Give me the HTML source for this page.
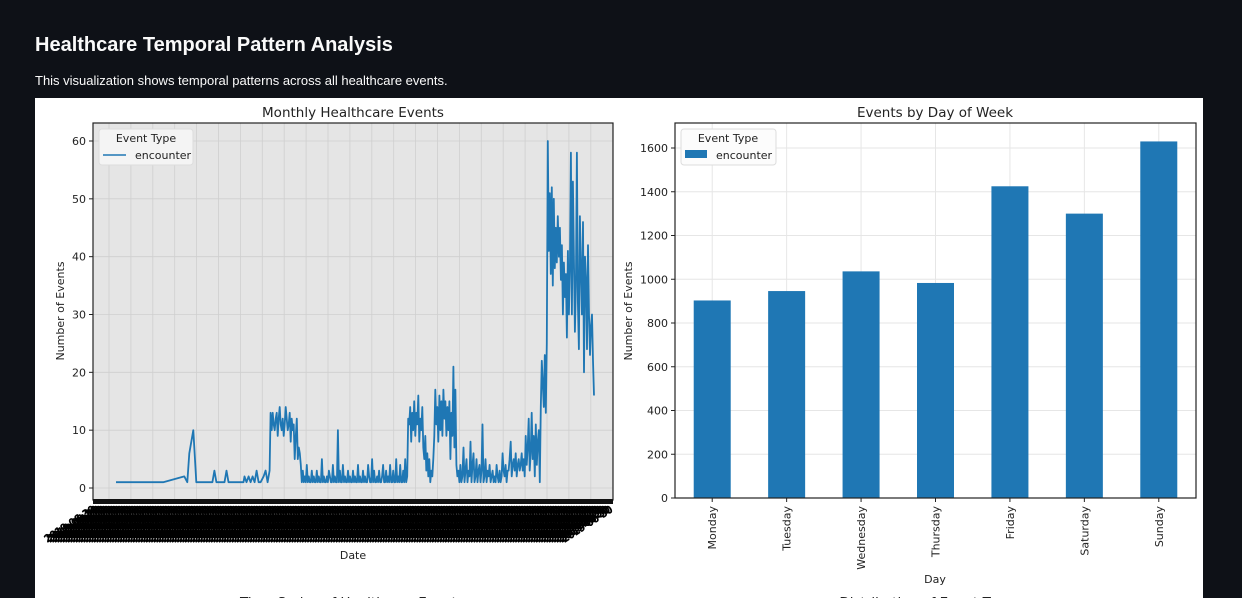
<!DOCTYPE html>
<html><head><meta charset="utf-8">
<style>
body{margin:0;background:#0e1117;width:1242px;height:598px;overflow:hidden;font-family:"Liberation Sans","DejaVu Sans",sans-serif;position:relative}
#title{position:absolute;left:35px;top:34px;color:#fafafa;font-size:20px;font-weight:bold;margin:0}
#sub{position:absolute;left:35px;top:73px;color:#fafafa;font-size:13px;margin:0}
#panel{position:absolute;left:35px;top:98px;width:1168px;height:500px;background:#fff}
svg{position:absolute;left:0;top:0}
text{font-family:"DejaVu Sans","Liberation Sans",sans-serif;fill:#222}
</style></head><body>
<h1 id="title">Healthcare Temporal Pattern Analysis</h1>
<p id="sub">This visualization shows temporal patterns across all healthcare events.</p>
<div id="panel"></div>
<svg id="svg" width="1242" height="598"></svg>
<script>
// ---- line chart data ----
const sparseDays = [0,47,68,71,73,77,80,96,98,100,108,110,112,127,128,130,132,134,136,138,140,142,144,147,149,151,153];
const sparseCounts = [1,1,2,1,6,10,1,1,3,1,1,3,1,1,2,1,2,1,2,1,3,1,1,2,3,1,3];
const denseStartDay = [154];
const denseCounts = [
13,10,13,11,10,12,13,9,12,14,11,10,12,9,11,14,12,10,11,13,8,12,10,11,5,9,12,5,7,6,4,
1,3,1,2,1,4,1,2,1,1,3,1,2,1,1,3,1,2,1,1,5,1,2,1,1,2,1,3,2,1,1,4,1,2,1,1,10,1,3,1,
1,4,1,2,1,1,3,1,2,1,1,3,1,2,1,1,4,1,2,1,1,3,1,2,1,1,4,2,1,1,5,1,3,1,1,2,1,3,1,1,
2,4,1,1,3,1,2,1,4,1,1,3,1,1,5,1,2,1,4,1,1,3,1,5,1,2,
12,11,14,8,13,10,15,9,13,11,16,8,12,10,14,7,5,9,3,6,2,5,1,3,
2,5,9,17,11,14,8,16,10,15,9,17,12,15,9,14,10,15,5,13,9,21,7,17,4,2,
3,1,4,1,2,7,1,3,5,1,3,2,8,1,4,6,1,2,5,1,3,4,1,3,11,1,2,5,1,3,2,4,1,2,3,1,2,1,4,2,
1,3,1,2,6,3,2,4,1,3,3,5,8,2,4,5,3,6,2,4,5,3,4,6,3,5,
2,9,4,7,12,3,6,13,5,9,2,11,4,8,10,1,
14,22,18,14,23,13,25,60,41,51,37,52,35,50,38,45,39,47,40,45,36,42,30,39,33,37,26,41,30,38,
58,30,53,40,27,35,58,32,24,47,38,30,46,20,40,36,24,42,30,23,28,30,22,16];
const lineYTicks = [0,10,20,30,40,50,60];
// ---- bar chart data ----
const days = ["Monday","Tuesday","Wednesday","Thursday","Friday","Saturday","Sunday"];
const dayCounts = [903,946,1036,983,1425,1300,1630];
const barYTicks = [0,200,400,600,800,1000,1200,1400,1600];

const svg = document.getElementById('svg');
const NS = 'http://www.w3.org/2000/svg';
function mk(tag, attrs, parent){const e=document.createElementNS(NS,tag);for(const k in attrs)e.setAttribute(k,attrs[k]);(parent||svg).appendChild(e);return e;}
function txt(s, attrs){const e=mk('text',attrs);e.textContent=s;return e;}

// ===== Left: line chart =====
const L={x0:93,x1:613,y0:123,y1:500};
const lx = d => 116 + d*(594-116)/476;
const ly = v => 488 - v*(347/60);
let r=mk('rect',{x:L.x0,y:L.y0,width:L.x1-L.x0,height:L.y1-L.y0,fill:'#e5e5e5'});


for(let gx=109; gx<L.x1; gx+=21.9){
  const g=mk('line',{x1:gx,x2:gx,y1:L.y0,y2:L.y1,stroke:'#cfcfcf','stroke-width':0.8});
  
  
}
lineYTicks.forEach(t=>{
  const g=mk('line',{x1:L.x0,x2:L.x1,y1:ly(t),y2:ly(t),stroke:'#cfcfcf','stroke-width':0.8});
  
  
  mk('line',{x1:L.x0-4,x2:L.x0,y1:ly(t),y2:ly(t),stroke:'#222'});
  const tl=txt(String(t),{x:L.x0-7,y:ly(t)+4,'font-size':11,'text-anchor':'end'});
  
  
});
let pts=[];
sparseDays.forEach((d,i)=>pts.push([lx(d),ly(sparseCounts[i])]));
denseCounts.forEach((v,i)=>pts.push([lx(denseStartDay[0]+i),ly(v)]));
const path=mk('path',{d:'M'+pts.map(p=>p[0].toFixed(1)+','+p[1].toFixed(1)).join('L'),fill:'none',stroke:'#1f77b4','stroke-width':1.8,'stroke-linejoin':'round'});


mk('rect',{x:L.x0,y:L.y0,width:L.x1-L.x0,height:L.y1-L.y0,fill:'none',stroke:'#222','stroke-width':1.2});
mk('rect',{x:L.x0,y:L.y1-1,width:L.x1-L.x0,height:5,fill:'#111'});
const tg=mk('g',{});


for(let i=0;i<200;i++){
  const x=96+i*2.6;
  const t=document.createElementNS(NS,'text');
  t.setAttribute('x',x);t.setAttribute('y',511);
  t.setAttribute('font-size',10);t.setAttribute('text-anchor','end');
  t.setAttribute('transform','rotate(-33 '+x+' 511)');
  t.setAttribute('style','fill:#000;stroke:#000;stroke-width:0.8');
  t.textContent='2019-06-30';
  tg.appendChild(t);
}
let t1=txt('Monthly Healthcare Events',{x:353,y:117,'font-size':13.5,'text-anchor':'middle'});


let t2=txt('Date',{x:353,y:559,'font-size':11,'text-anchor':'middle'});


let t3=txt('Number of Events',{x:0,y:0,'font-size':11,'text-anchor':'middle',transform:'translate(64,311) rotate(-90)'});


let lg=mk('rect',{x:99,y:129,width:94,height:36,rx:3,fill:'#f4f4f4',stroke:'#ddd'});


txt('Event Type',{x:146,y:142,'font-size':11,'text-anchor':'middle'});
mk('line',{x1:103,x2:126,y1:155,y2:155,stroke:'#1f77b4','stroke-width':1.6});
let le=txt('encounter',{x:135,y:159,'font-size':11});



// ===== Right: bar chart =====
const B={x0:675,x1:1196,y0:123,y1:498};
const bw=(B.x1-B.x0)/days.length;
const bx = i => B.x0 + bw*(i+0.5);
const by = v => B.y1 - v*(350/1600);
barYTicks.forEach(t=>{
  const g=mk('line',{x1:B.x0,x2:B.x1,y1:by(t),y2:by(t),stroke:'#e6e6e6'});
  
  
  mk('line',{x1:B.x0-4,x2:B.x0,y1:by(t),y2:by(t),stroke:'#222'});
  const tl=txt(String(t),{x:B.x0-7,y:by(t)+4,'font-size':11,'text-anchor':'end'});
  
  
});
days.forEach((d,i)=>{
  mk('line',{x1:bx(i),x2:bx(i),y1:B.y0,y2:B.y1,stroke:'#e6e6e6'});
});
days.forEach((d,i)=>{
  const b=mk('rect',{x:bx(i)-18.5,y:by(dayCounts[i]),width:37,height:B.y1-by(dayCounts[i]),fill:'#1f77b4'});
  
  
  mk('line',{x1:bx(i),x2:bx(i),y1:B.y1,y2:B.y1+4,stroke:'#222'});
  const tl=txt(d,{x:0,y:0,'font-size':11,'text-anchor':'end',transform:'translate('+(bx(i)+4)+','+(B.y1+8)+') rotate(-90)'});
  
  
});
mk('rect',{x:B.x0,y:B.y0,width:B.x1-B.x0,height:B.y1-B.y0,fill:'none',stroke:'#222','stroke-width':1.2});
let b1=txt('Events by Day of Week',{x:935,y:117,'font-size':13.5,'text-anchor':'middle'});


let b2=txt('Day',{x:935,y:583,'font-size':11,'text-anchor':'middle'});


let b3=txt('Number of Events',{x:0,y:0,'font-size':11,'text-anchor':'middle',transform:'translate(632,311) rotate(-90)'});


let bl=mk('rect',{x:681,y:129,width:95,height:36,rx:3,fill:'#fcfcfc',stroke:'#ddd'});


txt('Event Type',{x:728,y:142,'font-size':11,'text-anchor':'middle'});
mk('rect',{x:685,y:150,width:22,height:8,fill:'#1f77b4'});
let ble=txt('encounter',{x:716,y:159,'font-size':11});



let n1=txt('Time Series of Healthcare Events',{x:352,y:607,'font-size':13.5,'text-anchor':'middle'});


let n2=txt('Distribution of Event Types',{x:930,y:607,'font-size':13.5,'text-anchor':'middle'});


</script>
</body></html>
